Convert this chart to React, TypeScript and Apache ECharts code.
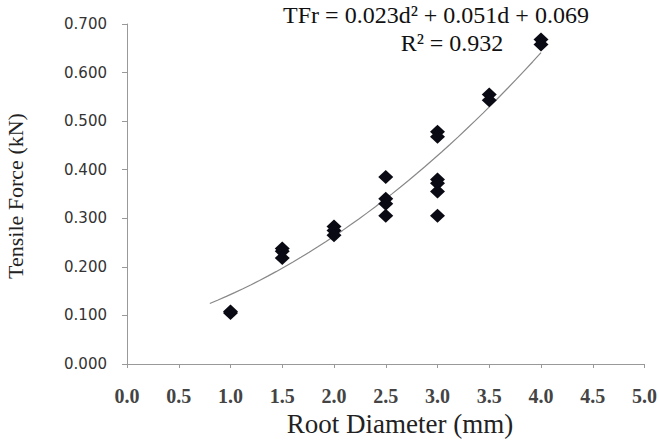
import React, { useEffect, useRef } from "react";
import * as echarts from "echarts";

const diameters = [1.0, 1.0, 1.5, 1.5, 1.5, 2.0, 2.0, 2.0, 2.5, 2.5, 2.5, 2.5, 3.0, 3.0, 3.0, 3.0, 3.0, 3.0, 3.5, 3.5, 4.0, 4.0];
const forces = [0.105, 0.108, 0.238, 0.232, 0.218, 0.283, 0.275, 0.265, 0.385, 0.340, 0.330, 0.305, 0.478, 0.468, 0.380, 0.372, 0.355, 0.305, 0.555, 0.543, 0.668, 0.658];
const trendCoefs = [0.023, 0.051, 0.069];
const trendRange = [0.8, 4.0];
const xTicks = ["0.0", "0.5", "1.0", "1.5", "2.0", "2.5", "3.0", "3.5", "4.0", "4.5", "5.0"];
const yTicks = ["0.000", "0.100", "0.200", "0.300", "0.400", "0.500", "0.600", "0.700"];

export default function App() {
  const ref = useRef<HTMLDivElement>(null);
  useEffect(() => {
    if (!ref.current) return;
    const chart = echarts.init(ref.current, null, { renderer: "svg" });
    const pts = diameters.map((d, i) => [d, forces[i]]);
    const trend: number[][] = [];
    const steps = 40;
    for (let i = 0; i <= steps; i++) {
      const d = trendRange[0] + ((trendRange[1] - trendRange[0]) * i) / steps;
      trend.push([d, trendCoefs[0] * d * d + trendCoefs[1] * d + trendCoefs[2]]);
    }
    chart.setOption({
      animation: false,
      backgroundColor: "#fff",
      grid: { left: 127, right: 15, top: 24, bottom: 76 },
      xAxis: {
        type: "value",
        min: 0,
        max: 5,
        interval: 0.5,
        splitLine: { show: false },
        axisLine: { show: true, lineStyle: { color: "#999" } },
        axisTick: { show: true, length: 4, lineStyle: { color: "#999" } },
        axisLabel: {
          fontFamily: "Liberation Serif",
          fontSize: 20,
          fontWeight: "bold",
          color: "#444",
          margin: 22,
          formatter: (v: number) => xTicks[Math.round(v / 0.5)] ?? "",
        },
      },
      yAxis: {
        type: "value",
        min: 0,
        max: 0.7,
        interval: 0.1,
        splitLine: { show: false },
        axisLine: { show: true, lineStyle: { color: "#999" } },
        axisTick: { show: true, length: 5, lineStyle: { color: "#999" } },
        axisLabel: {
          fontFamily: "DejaVu Sans",
          fontSize: 15,
          color: "#333",
          margin: 20,
          formatter: (v: number) => yTicks[Math.round(v / 0.1)] ?? "",
        },
      },
      graphic: [
        {
          type: "text",
          x: 400,
          y: 424,
          style: {
            text: "Root Diameter (mm)",
            font: "27px 'Liberation Serif'",
            fill: "#222",
            textAlign: "center",
            textVerticalAlign: "middle",
          },
        },
        {
          type: "text",
          x: 15,
          y: 196,
          rotation: Math.PI / 2,
          style: {
            text: "Tensile Force (kN)",
            font: "22px 'Liberation Serif'",
            fill: "#222",
            textAlign: "center",
            textVerticalAlign: "middle",
          },
        },
        {
          type: "text",
          x: 436,
          y: 15,
          style: {
            text: "TFr = 0.023d² + 0.051d + 0.069",
            font: "24px 'Liberation Serif'",
            fill: "#111",
            textAlign: "center",
            textVerticalAlign: "middle",
          },
        },
        {
          type: "text",
          x: 452,
          y: 43,
          style: {
            text: "R² = 0.932",
            font: "24px 'Liberation Serif'",
            fill: "#111",
            textAlign: "center",
            textVerticalAlign: "middle",
          },
        },
      ],
      series: [
        {
          type: "line",
          data: trend,
          showSymbol: false,
          smooth: false,
          lineStyle: { color: "#888", width: 1.2 },
          z: 1,
        },
        {
          type: "scatter",
          data: pts,
          symbol: "diamond",
          symbolSize: [15, 14],
          itemStyle: { color: "#0a0a14", opacity: 1 },
          z: 2,
        },
      ],
    });
    return () => chart.dispose();
  }, []);
  return <div ref={ref} style={{ width: 660, height: 440, position: "absolute", left: 0, top: 0 }} />;
}
